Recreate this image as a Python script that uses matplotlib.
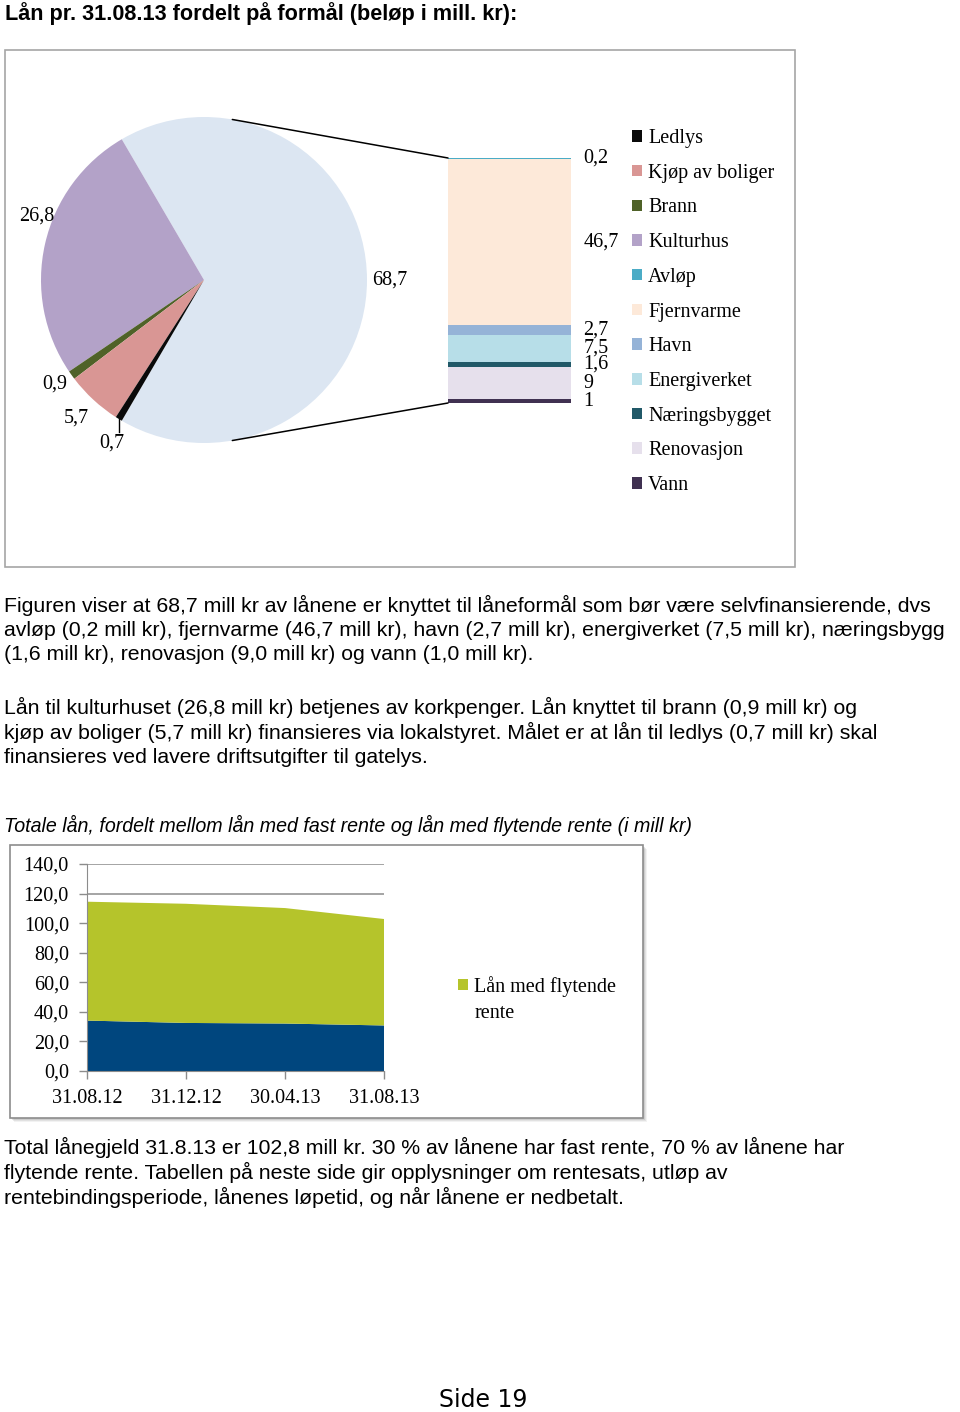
import matplotlib
matplotlib.use("Agg")
import matplotlib.pyplot as plt
import numpy as np
from matplotlib.patches import Rectangle, Patch
from matplotlib.patches import ConnectionPatch
import matplotlib.transforms as mtransforms

W, H = 960, 1412

# ── Data ─────────────────────────────────────────────────────────────────────
pie_names  = ["Sum selvfinansierende", "Kulturhus", "Brann", "Kjøp av boliger", "Ledlys"]
pie_values = [68.7, 26.8, 0.9, 5.7, 0.7]
pie_labels = ["68,7", "26,8", "0,9", "5,7", "0,7"]
pie_colors = ["#DCE6F2", "#B3A2C8", "#4F6228", "#D99694", "#0A0A0A"]

bar_names  = ["Vann", "Renovasjon", "Næringsbygget", "Energiverket", "Havn", "Fjernvarme", "Avløp"]
bar_values = [1.0, 9.0, 1.6, 7.5, 2.7, 46.7, 0.2]
bar_labels = ["1", "9", "1,6", "7,5", "2,7", "46,7", "0,2"]
bar_colors = ["#403151", "#E6E0EC", "#215968", "#B7DEE8", "#95B3D7", "#FDE9D9", "#4BACC6"]

legend_order = ["Ledlys", "Kjøp av boliger", "Brann", "Kulturhus", "Avløp", "Fjernvarme",
                "Havn", "Energiverket", "Næringsbygget", "Renovasjon", "Vann"]

dates        = ["31.08.12", "31.12.12", "30.04.13", "31.08.13"]
fast_rente   = [34.1, 32.5, 32.1, 30.8]
flyt_rente   = [80.4, 80.6, 78.1, 72.0]
y_ticks      = [0, 20, 40, 60, 80, 100, 120, 140]

SERIF = ["Liberation Serif", "DejaVu Serif"]
SANS  = ["Liberation Sans", "DejaVu Sans"]
FS_CHART = 14.5
FS_BODY  = 15.35


def rect(x0, y0, x1, y1):
    return [x0 / W, 1 - y1 / H, (x1 - x0) / W, (y1 - y0) / H]


def fxy(x, y):
    return x / W, 1 - y / H


fig = plt.figure(figsize=(W / 100, H / 100), dpi=100)
fig.patch.set_facecolor("white")

# ── Title + frame of first chart ─────────────────────────────────────────────
fig.text(*fxy(5, 14), "Lån pr. 31.08.13 fordelt på formål (beløp i mill. kr):",
         family=SANS, fontsize=15.6, fontweight="bold", va="center", ha="left")
fig.patches.append(Rectangle(fxy(5, 567), 790 / W, 517 / H, transform=fig.transFigure,
                             facecolor="white", edgecolor="#A6A6A6", lw=1.2, zorder=-5))

# ── Pie ──────────────────────────────────────────────────────────────────────
ax_pie = fig.add_axes(rect(41, 117, 367, 443))
start = -180 * pie_values[0] / sum(pie_values)
wedges, _ = ax_pie.pie(pie_values, colors=pie_colors, startangle=start,
                       counterclock=True, radius=1.0,
                       wedgeprops=dict(linewidth=0))
ax_pie.set_xlim(-1, 1)
ax_pie.set_ylim(-1, 1)

label_r     = [1.03, 1.10, 1.12, 1.155, 1.15]
label_nudge = [0, -8, -0.8, 0, 2]
for w, lab, r, dn, in zip(wedges, pie_labels, label_r, label_nudge):
    th = np.deg2rad((w.theta1 + w.theta2) / 2 + dn)
    ha = "left" if np.cos(th) > 0.5 else "center"
    ax_pie.text(r * np.cos(th), r * np.sin(th), lab, ha=ha, va="center",
                family=SERIF, fontsize=FS_CHART)
# leader line for the small slice
led = wedges[-1]
th = np.deg2rad((led.theta1 + led.theta2) / 2)
ax_pie.plot([np.cos(th), np.cos(th)], [np.sin(th), np.sin(th) - 0.08],
            color="black", lw=1, clip_on=False)

# ── Bar of pie ───────────────────────────────────────────────────────────────
ax_bar = fig.add_axes(rect(448, 158, 571, 403))
bottoms = np.concatenate([[0], np.cumsum(bar_values)[:-1]])
ax_bar.bar([0] * len(bar_values), bar_values, bottom=bottoms, width=1.0,
           color=bar_colors, linewidth=0)
ax_bar.set_xlim(-0.5, 0.5)
ax_bar.set_ylim(0, sum(bar_values))
ax_bar.axis("off")
trans = mtransforms.blended_transform_factory(ax_bar.transAxes, ax_bar.transData)
for b, v, lab in zip(bottoms, bar_values, bar_labels):
    ax_bar.text(1.1, b + v / 2, lab, transform=trans, ha="left", va="center",
                family=SERIF, fontsize=FS_CHART)

# connector lines
for ang, yb in [(80, sum(bar_values)), (-80, 0)]:
    a = np.deg2rad(ang)
    con = ConnectionPatch(xyA=(np.cos(a), np.sin(a)), coordsA=ax_pie.transData,
                          xyB=(-0.5, yb), coordsB=ax_bar.transData,
                          color="black", lw=1.1)
    fig.add_artist(con)

# legend
color_map = dict(zip(pie_names + bar_names, pie_colors + bar_colors))
handles = [Patch(facecolor=color_map[n], edgecolor="none", label=n) for n in legend_order]
fig.legend(handles=handles, loc="upper left", bbox_to_anchor=fxy(632, 129),
           frameon=False, prop=dict(family=SERIF, size=FS_CHART),
           handlelength=0.5, handleheight=0.5, handletextpad=0.3,
           labelspacing=0.78, borderpad=0, borderaxespad=0)

# ── Paragraph text ───────────────────────────────────────────────────────────
para1 = [
    "Figuren viser at 68,7 mill kr av lånene er knyttet til låneformål som bør være selvfinansierende, dvs",
    "avløp (0,2 mill kr), fjernvarme (46,7 mill kr), havn (2,7 mill kr), energiverket (7,5 mill kr), næringsbygg",
    "(1,6 mill kr), renovasjon (9,0 mill kr) og vann (1,0 mill kr).",
]
para2 = [
    "Lån til kulturhuset (26,8 mill kr) betjenes av korkpenger. Lån knyttet til brann (0,9 mill kr) og",
    "kjøp av boliger (5,7 mill kr) finansieres via lokalstyret. Målet er at lån til ledlys (0,7 mill kr) skal",
    "finansieres ved lavere driftsutgifter til gatelys.",
]
para3 = [
    "Total lånegjeld 31.8.13 er 102,8 mill kr. 30 % av lånene har fast rente, 70 % av lånene har",
    "flytende rente. Tabellen på neste side gir opplysninger om rentesats, utløp av",
    "rentebindingsperiode, lånenes løpetid, og når lånene er nedbetalt.",
]
for y0, lines in [(605, para1), (707, para2), (1147, para3)]:
    for i, line in enumerate(lines):
        fig.text(*fxy(4, y0 + i * 25), line, family=SANS, fontsize=FS_BODY,
                 va="center", ha="left")

fig.text(*fxy(4, 825), "Totale lån, fordelt mellom lån med fast rente og lån med flytende rente (i mill kr)",
         family=SANS, fontsize=14.1, style="italic", va="center", ha="left")

# ── Area chart frame with shadow ─────────────────────────────────────────────
for off, a in [(4, 0.10), (3, 0.15), (2, 0.2)]:
    fig.patches.append(Rectangle(fxy(10 + off, 1118 + off), 633 / W, 273 / H,
                                 transform=fig.transFigure, facecolor="#808080",
                                 alpha=a, edgecolor="none", zorder=-6))
fig.patches.append(Rectangle(fxy(10, 1118), 633 / W, 273 / H, transform=fig.transFigure,
                             facecolor="white", edgecolor="#8C8C8C", lw=1.2, zorder=-5))

ax_a = fig.add_axes(rect(87, 864, 384, 1071))
ax_a.set_facecolor("none")
x = np.arange(len(dates))
ax_a.stackplot(x, fast_rente, flyt_rente, colors=["#00467E", "#B5C42B"],
               labels=["Lån med fast rente", "Lån med flytende rente"], lw=0, zorder=2)
ax_a.set_xlim(0, len(dates) - 1)
ax_a.set_ylim(0, 140)
ax_a.set_yticks(y_ticks)
ax_a.set_yticklabels([f"{v:.1f}".replace(".", ",") for v in y_ticks],
                     family=SERIF, fontsize=FS_CHART)
ax_a.set_xticks(x)
ax_a.set_xticklabels(dates, family=SERIF, fontsize=FS_CHART)
ax_a.grid(axis="y", color="#8C8C8C", lw=1.1, zorder=0)
ax_a.set_axisbelow(True)
for s in ["top", "right"]:
    ax_a.spines[s].set_visible(False)
for s in ["left", "bottom"]:
    ax_a.spines[s].set_color("#8C8C8C")
ax_a.tick_params(axis="both", direction="out", length=6, color="#8C8C8C", width=1)
ax_a.tick_params(axis="y", pad=7)
ax_a.tick_params(axis="x", pad=7)

fig.legend(handles=[Patch(facecolor="#B5C42B", label="Lån med flytende"),
                    Patch(facecolor="none", edgecolor="none", label="rente")],
           loc="upper left", bbox_to_anchor=fxy(458, 976), frameon=False,
           prop=dict(family=SERIF, size=FS_CHART), handlelength=0.5, handleheight=0.5,
           handletextpad=0.3, labelspacing=0.35, borderpad=0, borderaxespad=0)

# ── Footer ───────────────────────────────────────────────────────────────────
fig.text(*fxy(483, 1400), "Side 19", family=["DejaVu Sans"], fontsize=17,
         ha="center", va="center")

fig.savefig("out.png", dpi=100)
